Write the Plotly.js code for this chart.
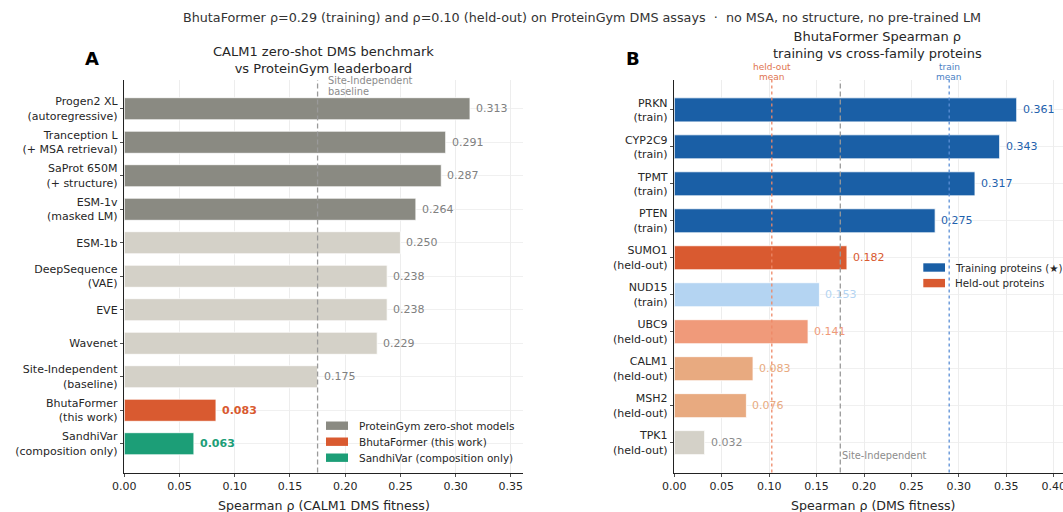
<!DOCTYPE html>
<html>
<head>
<meta charset="utf-8">
<script src="https://cdn.plot.ly/plotly-3.0.1.min.js"></script>
<style>
  html, body { margin: 0; padding: 0; background: #ffffff; }
  #chart { width: 1063px; height: 512px; }
</style>
</head>
<body>
<div id="chart"></div>
<script>
// ---- Panel A: CALM1 zero-shot DMS benchmark ----
const modelNames = [
  'Progen2 XL<br>(autoregressive)',
  'Tranception L<br>(+ MSA retrieval)',
  'SaProt 650M<br>(+ structure)',
  'ESM-1v<br>(masked LM)',
  'ESM-1b',
  'DeepSequence<br>(VAE)',
  'EVE',
  'Wavenet',
  'Site-Independent<br>(baseline)',
  'BhutaFormer<br>(this work)',
  'SandhiVar<br>(composition only)'
];
const modelRho = [0.313, 0.291, 0.287, 0.264, 0.250, 0.238, 0.238, 0.229, 0.175, 0.083, 0.063];
const modelGroup = ['zero-shot', 'zero-shot', 'zero-shot', 'zero-shot', 'other', 'other', 'other', 'other', 'other', 'bhutaformer', 'sandhivar'];

// ---- Panel B: BhutaFormer per-protein Spearman rho ----
const proteinNames = [
  'PRKN<br>(train)', 'CYP2C9<br>(train)', 'TPMT<br>(train)', 'PTEN<br>(train)',
  'SUMO1<br>(held-out)', 'NUD15<br>(train)', 'UBC9<br>(held-out)',
  'CALM1<br>(held-out)', 'MSH2<br>(held-out)', 'TPK1<br>(held-out)'
];
const proteinRho = [0.361, 0.343, 0.317, 0.275, 0.182, 0.153, 0.141, 0.083, 0.076, 0.032];
const proteinSplit = ['train', 'train', 'train', 'train', 'held-out', 'train', 'held-out', 'held-out', 'held-out', 'held-out'];

const siteIndependentRho = 0.175;

const legendA = ['ProteinGym zero-shot models', 'BhutaFormer (this work)', 'SandhiVar (composition only)'];
const legendB = ['Training proteins (★)', 'Held-out proteins'];

// ---- styling ----
const FONT = 'DejaVu Sans, Verdana, sans-serif';
const INK = '#262626';
const W = 1063, H = 512;
const px = v => v / W;          // pixel -> paper x
const py = v => 1 - v / H;      // pixel -> paper y

const groupFill = { 'zero-shot': '#8a8a82', 'other': '#d4d1c8', 'bhutaformer': '#d95a30', 'sandhivar': '#1c9e77' };
const groupText = { 'zero-shot': '#808080', 'other': '#808080', 'bhutaformer': '#d95a30', 'sandhivar': '#1c9e77' };
const proteinFill = ['#1a5fa6', '#1a5fa6', '#1a5fa6', '#1a5fa6', '#d95a30', '#b4d4f2', '#f09a7a', '#e8aa80', '#e8aa80', '#d4d1c8'];
const proteinText = ['#1f62ad', '#1f62ad', '#1f62ad', '#1f62ad', '#d95a30', '#b4d4f2', '#f09a7a', '#e8aa80', '#e8aa80', '#8a8a8a'];

const mean = arr => arr.reduce((a, b) => a + b, 0) / arr.length;
const trainMean = mean(proteinRho.filter((v, i) => proteinSplit[i] === 'train'));
const heldMean = mean(proteinRho.filter((v, i) => proteinSplit[i] === 'held-out'));

const yTop = py(80), yBot = py(472.5);

const traces = [
  {
    type: 'bar', orientation: 'h',
    x: modelRho, y: modelNames,
    width: 0.66,
    marker: { color: modelGroup.map(g => groupFill[g]), line: { color: '#ffffff', width: 0.8 } },
    hoverinfo: 'x+y', showlegend: false,
    xaxis: 'x', yaxis: 'y'
  },
  {
    type: 'bar', orientation: 'h',
    x: proteinRho, y: proteinNames,
    width: 0.65,
    marker: { color: proteinFill, line: { color: '#ffffff', width: 0.8 } },
    hoverinfo: 'x+y', showlegend: false,
    xaxis: 'x2', yaxis: 'y2'
  }
];

const annotations = [];

// value labels, panel A
modelRho.forEach((v, i) => {
  const bold = modelGroup[i] === 'bhutaformer' || modelGroup[i] === 'sandhivar';
  annotations.push({
    xref: 'x', yref: 'y', x: v, y: modelNames[i], xanchor: 'left', yanchor: 'middle', xshift: 4,
    text: bold ? '<b>' + v.toFixed(3) + '</b>' : v.toFixed(3), showarrow: false,
    font: { family: FONT, size: 11, color: groupText[modelGroup[i]] }
  });
});
// value labels, panel B
proteinRho.forEach((v, i) => {
  annotations.push({
    xref: 'x2', yref: 'y2', x: v, y: proteinNames[i], xanchor: 'left', yanchor: 'middle', xshift: 4,
    text: v.toFixed(3), showarrow: false,
    font: { family: FONT, size: 11, color: proteinText[i] }
  });
});

// reference line labels
annotations.push(
  { xref: 'x', yref: 'paper', x: siteIndependentRho, y: py(80.5), xanchor: 'left', yanchor: 'middle', xshift: 8,
    text: 'Site-Independent', showarrow: false, font: { family: FONT, size: 9.8, color: '#8c8c8c' } },
  { xref: 'x', yref: 'paper', x: siteIndependentRho, y: py(91.5), xanchor: 'left', yanchor: 'middle', xshift: 8,
    text: 'baseline', showarrow: false, font: { family: FONT, size: 9.8, color: '#8c8c8c' } },
  { xref: 'x2', yref: 'paper', x: siteIndependentRho, y: py(455.5), xanchor: 'left', yanchor: 'middle', xshift: 0,
    text: 'Site-Independent', showarrow: false, font: { family: FONT, size: 9.8, color: '#8c8c8c' } },
  { xref: 'x2', yref: 'paper', x: heldMean, y: py(66.5), xanchor: 'center', yanchor: 'middle',
    text: 'held-out', showarrow: false, font: { family: FONT, size: 9, color: '#e0744f' } },
  { xref: 'x2', yref: 'paper', x: heldMean, y: py(76.5), xanchor: 'center', yanchor: 'middle',
    text: 'mean', showarrow: false, font: { family: FONT, size: 9, color: '#e0744f' } },
  { xref: 'x2', yref: 'paper', x: trainMean, y: py(66.5), xanchor: 'center', yanchor: 'middle',
    text: 'train', showarrow: false, font: { family: FONT, size: 9, color: '#4a7fc4' } },
  { xref: 'x2', yref: 'paper', x: trainMean, y: py(76.5), xanchor: 'center', yanchor: 'middle',
    text: 'mean', showarrow: false, font: { family: FONT, size: 9, color: '#4a7fc4' } }
);

// panel titles, letters and axis titles
annotations.push(
  { xref: 'paper', yref: 'paper', x: px(323.6), y: py(60), xanchor: 'center', yanchor: 'middle', showarrow: false,
    text: 'CALM1 zero-shot DMS benchmark<br>vs ProteinGym leaderboard', font: { family: FONT, size: 13, color: INK } },
  { xref: 'paper', yref: 'paper', x: px(877), y: py(44.5), xanchor: 'center', yanchor: 'middle', showarrow: false,
    text: 'BhutaFormer Spearman ρ<br>training vs cross-family proteins', font: { family: FONT, size: 13, color: INK } },
  { xref: 'paper', yref: 'paper', x: px(91.7), y: py(58), xanchor: 'center', yanchor: 'middle', showarrow: false,
    text: '<b>A</b>', font: { family: FONT, size: 18, color: '#000' } },
  { xref: 'paper', yref: 'paper', x: px(633), y: py(58), xanchor: 'center', yanchor: 'middle', showarrow: false,
    text: '<b>B</b>', font: { family: FONT, size: 18, color: '#000' } },
  { xref: 'paper', yref: 'paper', x: px(323.6), y: py(505), xanchor: 'center', yanchor: 'middle', showarrow: false,
    text: 'Spearman ρ (CALM1 DMS fitness)', font: { family: FONT, size: 12.6, color: INK } },
  { xref: 'paper', yref: 'paper', x: px(873.3), y: py(505), xanchor: 'center', yanchor: 'middle', showarrow: false,
    text: 'Spearman ρ (DMS fitness)', font: { family: FONT, size: 12.6, color: INK } }
);

// legend entries
const shapes = [];
const legendAColors = [groupFill['zero-shot'], groupFill['bhutaformer'], groupFill['sandhivar']];
legendA.forEach((label, i) => {
  const cy = 425.7 + 16 * i;
  shapes.push({ type: 'rect', xref: 'paper', yref: 'paper', x0: px(326), x1: px(348), y0: py(cy - 4.2), y1: py(cy + 4.2),
    fillcolor: legendAColors[i], line: { width: 0 } });
  annotations.push({ xref: 'paper', yref: 'paper', x: px(356.5), y: py(cy), xanchor: 'left', yanchor: 'middle', showarrow: false,
    text: label, font: { family: FONT, size: 10.5, color: INK } });
});
const legendBColors = ['#1a5fa6', '#d95a30'];
legendB.forEach((label, i) => {
  const cy = 267.5 + 15.6 * i;
  shapes.push({ type: 'rect', xref: 'paper', yref: 'paper', x0: px(923.3), x1: px(945), y0: py(cy - 4.2), y1: py(cy + 4.2),
    fillcolor: legendBColors[i], line: { width: 0 } });
  annotations.push({ xref: 'paper', yref: 'paper', x: px(952.5), y: py(cy), xanchor: 'left', yanchor: 'middle', showarrow: false,
    text: label, font: { family: FONT, size: 10.3, color: INK } });
});

// reference lines
shapes.push(
  { type: 'line', xref: 'x', yref: 'paper', x0: siteIndependentRho, x1: siteIndependentRho, y0: yBot, y1: yTop,
    line: { color: '#9a9a9a', width: 1.3, dash: '5px,3px' }, layer: 'above' },
  { type: 'line', xref: 'x2', yref: 'paper', x0: siteIndependentRho, x1: siteIndependentRho, y0: yBot, y1: yTop,
    line: { color: '#9a9a9a', width: 1.3, dash: '5px,3px' }, layer: 'above' },
  { type: 'line', xref: 'x2', yref: 'paper', x0: heldMean, x1: heldMean, y0: yBot, y1: yTop,
    line: { color: '#ee8866', width: 1.3, dash: 'dot' }, layer: 'above' },
  { type: 'line', xref: 'x2', yref: 'paper', x0: trainMean, x1: trainMean, y0: yBot, y1: yTop,
    line: { color: '#5b8fd6', width: 1.3, dash: 'dot' }, layer: 'above' }
);

const xCommon = {
  showgrid: true, gridcolor: '#e8e8e8', gridwidth: 0.8,
  zeroline: false, showline: true, linecolor: '#222', linewidth: 1,
  ticks: 'outside', ticklen: 3.5, tickwidth: 0.8, tickcolor: '#222',
  tick0: 0, dtick: 0.05, tickformat: '.2f',
  tickfont: { family: FONT, size: 11, color: INK },
  fixedrange: true
};
const yCommon = {
  type: 'category', showgrid: true, gridcolor: '#ececec', gridwidth: 0.8,
  zeroline: false, showline: true, linecolor: '#222', linewidth: 1,
  ticks: 'outside', ticklen: 3.5, tickwidth: 0.8, tickcolor: '#222',
  tickfont: { family: FONT, size: 11, color: INK },
  domain: [yBot, yTop], fixedrange: true
};

const layout = {
  width: W, height: H,
  margin: { l: 0, r: 0, t: 0, b: 0 },
  paper_bgcolor: '#ffffff', plot_bgcolor: 'rgba(0,0,0,0)',
  font: { family: FONT, color: INK },
  showlegend: false, bargap: 0,
  title: {
    text: 'BhutaFormer ρ=0.29 (training) and ρ=0.10 (held-out) on ProteinGym DMS assays  ·  no MSA, no structure, no pre-trained LM',
    x: px(582), xanchor: 'center', xref: 'paper', y: 1 - 18 / H, yref: 'container', yanchor: 'middle',
    font: { family: FONT, size: 12.75, color: '#333' }
  },
  xaxis: Object.assign({}, xCommon, {
    domain: [px(124.3), px(523)], range: [0, 0.361], anchor: 'y'
  }),
  yaxis: Object.assign({}, yCommon, {
    anchor: 'x', range: [modelNames.length - 1 + 0.858, -0.858]
  }),
  xaxis2: Object.assign({}, xCommon, {
    domain: [px(674.3), 1], range: [0, (W - 674.3) / 948.5],
    anchor: 'y2', ticklabeloverflow: 'allow'
  }),
  yaxis2: Object.assign({}, yCommon, {
    anchor: 'x2', range: [proteinNames.length - 1 + 0.8075, -0.8075]
  }),
  shapes: shapes,
  annotations: annotations
};

Plotly.newPlot('chart', traces, layout, { displayModeBar: false, staticPlot: true });
</script>
</body>
</html>
